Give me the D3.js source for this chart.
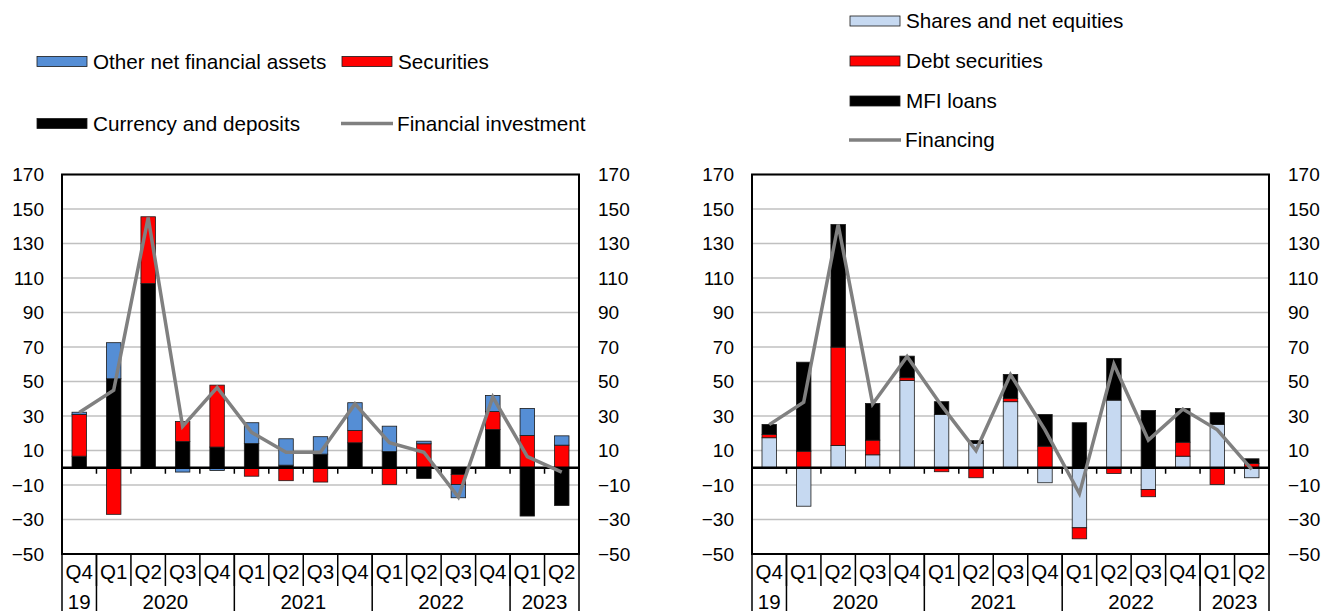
<!DOCTYPE html>
<html>
<head>
<meta charset="utf-8">
<script src="https://cdn.jsdelivr.net/npm/d3@7"></script>
<style>
  body { margin: 0; background: #fff; }
  svg { font-family: 'Liberation Sans', Arial, sans-serif; }
</style>
</head>
<body>
<svg width="1323" height="611"></svg>
<script>
// category axis
const quarters = ['Q4', 'Q1', 'Q2', 'Q3', 'Q4', 'Q1', 'Q2', 'Q3', 'Q4', 'Q1', 'Q2', 'Q3', 'Q4', 'Q1', 'Q2'];
const yearLabels = ['19', '2020', '2021', '2022', '2023'];
const yearSpans = [1, 4, 4, 4, 2];
const yTicks = [-50, -30, -10, 10, 30, 50, 70, 90, 110, 130, 150, 170];

// left panel: financial investment
const currencyDeposits = [6.7, 51.6, 106.8, 15.2, 12, 14.1, 1.5, 7.9, 14.5, 9.4, -6.2, -3.9, 22.2, -28, -21.9];
const securities = [24.2, -27, 38.7, 11.6, 35.9, -4.9, -7.5, -8.3, 7.1, -9.7, 13.9, -5.8, 10.4, 18.7, 13.1];
const otherAssets = [1.3, 20.9, 0, -2.5, -1.6, 12, 15.3, 10.1, 16.1, 14.7, 1.5, -7.7, 9.3, 15.7, 5.4];
const financialInvestment = [32, 45, 145, 24, 46.5, 20.5, 9, 9, 37, 14.5, 9, -17, 41, 6.5, -2.5];

// right panel: financing
const sharesEquities = [17.4, -22.3, 12.9, 7.5, 50.6, 30.9, 14.1, 38.3, -8.7, -34.8, 39.2, -12.6, 6.7, 25.1, -5.8];
const debtSecurities = [1.9, 9.6, 57, 8.5, 1.6, -2.3, -5.8, 1.9, 12.5, -6.4, -3.3, -4.2, 8.1, -9.7, 2.5];
const mfiLoans = [5.8, 51.6, 71.1, 21.3, 12.5, 7.4, 1.7, 13.9, 18.4, 26.1, 24.2, 33.2, 19.6, 6.8, 2.7];
const financing = [25, 38, 141, 37, 64.5, 36, 10, 54, 22, -15, 60, 16, 34, 22, -1];

const svg = d3.select('svg');
const plotTop = 174.5;
const plotBottom = 554;

const yScale = d3.scaleLinear()
  .domain([-50, 170])
  .range([plotBottom, plotTop]);

const drawPanel = (props) => {
  const { left, right, series, lineValues } = props;

  const xScale = d3.scaleBand()
    .domain(d3.range(quarters.length))
    .range([left, right])
    .paddingInner(0.58)
    .paddingOuter(0.29);
  const step = xScale.step();
  const edge = i => xScale(i) + xScale.bandwidth() / 2 - step / 2;

  const g = svg.append('g');

  // gridlines
  g.selectAll('.grid').data(yTicks).enter().append('line')
    .attr('x1', left).attr('x2', right)
    .attr('y1', d => yScale(d)).attr('y2', d => yScale(d))
    .attr('stroke', '#c0c0c0')
    .attr('stroke-width', 1.6);

  // stacked bars
  const rows = quarters.map((q, i) => {
    const row = { i };
    series.forEach(s => { row[s.key] = s.values[i]; });
    return row;
  });
  const stacked = d3.stack()
    .keys(series.map(s => s.key))
    .offset(d3.stackOffsetDiverging)(rows);

  g.selectAll('.layer').data(stacked).enter().append('g')
    .attr('fill', (d, k) => series[k].color)
    .selectAll('rect').data(d => d).enter().append('rect')
    .attr('x', d => xScale(d.data.i))
    .attr('width', xScale.bandwidth())
    .attr('y', d => yScale(Math.max(d[0], d[1])))
    .attr('height', d => Math.abs(yScale(d[0]) - yScale(d[1])))
    .attr('stroke', d => Math.abs(d[1] - d[0]) > 0 ? '#1a1a1a' : 'none')
    .attr('stroke-width', 0.8);

  // zero line and ticks
  g.append('line')
    .attr('x1', left).attr('x2', right)
    .attr('y1', yScale(0)).attr('y2', yScale(0))
    .attr('stroke', '#000')
    .attr('stroke-width', 2.5);
  g.selectAll('.ztick').data(d3.range(1, quarters.length)).enter().append('line')
    .attr('x1', d => edge(d)).attr('x2', d => edge(d))
    .attr('y1', yScale(0)).attr('y2', yScale(0) + 6)
    .attr('stroke', '#000')
    .attr('stroke-width', 1.5);

  // line series
  const line = d3.line()
    .x((d, i) => xScale(i) + xScale.bandwidth() / 2)
    .y(d => yScale(d));
  g.append('path')
    .datum(lineValues)
    .attr('d', line)
    .attr('fill', 'none')
    .attr('stroke', '#808080')
    .attr('stroke-width', 3.5);

  // frame
  g.append('rect')
    .attr('x', left).attr('y', plotTop)
    .attr('width', right - left).attr('height', plotBottom - plotTop)
    .attr('fill', 'none')
    .attr('stroke', '#000')
    .attr('stroke-width', 2);

  // y axes on both sides
  const yAxisL = d3.axisLeft(yScale).tickValues(yTicks).tickSize(0).tickPadding(18);
  const yAxisR = d3.axisRight(yScale).tickValues(yTicks).tickSize(0).tickPadding(19);
  [[yAxisL, left], [yAxisR, right]].forEach(([axis, x]) => {
    const a = g.append('g')
      .attr('transform', `translate(${x},0)`)
      .call(axis);
    a.select('.domain').remove();
    a.selectAll('text')
      .attr('font-size', 19)
      .attr('font-family', "'Liberation Sans', Arial, sans-serif")
      .attr('fill', '#000');
  });

  // category axis: quarter row
  g.selectAll('.qsep').data(d3.range(1, quarters.length)).enter().append('line')
    .attr('x1', d => edge(d)).attr('x2', d => edge(d))
    .attr('y1', plotBottom).attr('y2', 586)
    .attr('stroke', '#000')
    .attr('stroke-width', 1.5);
  g.selectAll('.qlabel').data(quarters).enter().append('text')
    .attr('x', (d, i) => xScale(i) + xScale.bandwidth() / 2)
    .attr('y', 572)
    .attr('dy', '0.35em')
    .attr('text-anchor', 'middle')
    .attr('font-size', 20.5)
    .text(d => d);

  // category axis: year row
  const starts = yearSpans.map((s, k) => d3.sum(yearSpans.slice(0, k)));
  const yearEdges = starts.concat([quarters.length]);
  g.selectAll('.ysep').data(yearEdges).enter().append('line')
    .attr('x1', d => d < quarters.length ? edge(d) : right)
    .attr('x2', d => d < quarters.length ? edge(d) : right)
    .attr('y1', plotBottom).attr('y2', 611)
    .attr('stroke', '#000')
    .attr('stroke-width', 1.5);
  g.selectAll('.ylabel').data(yearLabels).enter().append('text')
    .attr('x', (d, k) => edge(starts[k]) + yearSpans[k] * step / 2)
    .attr('y', 602)
    .attr('dy', '0.35em')
    .attr('text-anchor', 'middle')
    .attr('font-size', 20.5)
    .text(d => d);
};

const drawLegend = (items) => {
  const lg = svg.append('g');
  items.forEach(it => {
    if (it.type === 'line') {
      lg.append('line')
        .attr('x1', it.x).attr('x2', it.x + 52)
        .attr('y1', it.y).attr('y2', it.y)
        .attr('stroke', '#808080')
        .attr('stroke-width', 3.5);
    } else {
      lg.append('rect')
        .attr('x', it.x).attr('y', it.y - 5)
        .attr('width', 50).attr('height', 10)
        .attr('fill', it.color)
        .attr('stroke', '#1a1a1a')
        .attr('stroke-width', 0.8);
    }
    lg.append('text')
      .attr('x', it.x + 56)
      .attr('y', it.y)
      .attr('dy', '0.35em')
      .attr('font-size', 20.7)
      .text(it.label);
  });
};

drawPanel({
  left: 62,
  right: 579,
  series: [
    { key: 'currency', values: currencyDeposits, color: '#000000' },
    { key: 'securities', values: securities, color: '#ff0000' },
    { key: 'other', values: otherAssets, color: '#558ed5' }
  ],
  lineValues: financialInvestment
});

drawPanel({
  left: 752,
  right: 1269,
  series: [
    { key: 'shares', values: sharesEquities, color: '#c6d9f1' },
    { key: 'debt', values: debtSecurities, color: '#ff0000' },
    { key: 'mfi', values: mfiLoans, color: '#000000' }
  ],
  lineValues: financing
});

drawLegend([
  { x: 37, y: 61.5, color: '#558ed5', label: 'Other net financial assets' },
  { x: 342, y: 61.5, color: '#ff0000', label: 'Securities' },
  { x: 37, y: 123.5, color: '#000000', label: 'Currency and deposits' },
  { x: 341, y: 123.5, type: 'line', label: 'Financial investment' }
]);

drawLegend([
  { x: 850, y: 21, color: '#c6d9f1', label: 'Shares and net equities' },
  { x: 850, y: 61, color: '#ff0000', label: 'Debt securities' },
  { x: 850, y: 101, color: '#000000', label: 'MFI loans' },
  { x: 849, y: 140, type: 'line', label: 'Financing' }
]);
</script>
</body>
</html>
